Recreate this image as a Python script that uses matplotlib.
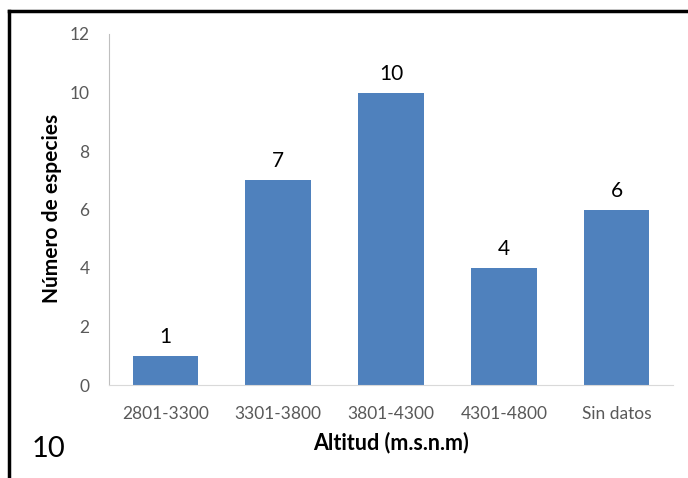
import matplotlib
matplotlib.use("Agg")
from matplotlib import pyplot as plt
from matplotlib.lines import Line2D

categorias = ["2801-3300", "3301-3800", "3801-4300", "4301-4800", "Sin datos"]
especies = [1, 7, 10, 4, 6]
ticks_y = [0, 2, 4, 6, 8, 10, 12]

plt.rcParams['font.family'] = ['Lato', 'DejaVu Sans']

fig = plt.figure(figsize=(6.88, 4.78), dpi=100)
ax = fig.add_axes([109 / 688, (478 - 385) / 478, 564 / 688, 351 / 478])

azul = '#4F81BD'
gris = '#595959'
x = range(len(categorias))
barras = ax.bar(x, especies, width=0.58, color=azul, zorder=2)
for b, v in zip(barras, especies):
    ax.text(b.get_x() + b.get_width() / 2, v + 0.3, str(v),
            ha='center', va='bottom', fontsize=15, color='black')

ax.set_xlim(-0.5, len(categorias) - 0.5)
ax.set_ylim(0, 12)
ax.set_yticks(ticks_y)
ax.set_xticks(list(x))
ax.set_xticklabels(categorias)
ax.tick_params(axis='both', length=0, labelsize=12.5, labelcolor=gris)
ax.tick_params(axis='y', pad=14)
ax.tick_params(axis='x', pad=15)

for lado in ['top', 'right']:
    ax.spines[lado].set_visible(False)
ax.spines['left'].set_color('#BFBFBF')
ax.spines['bottom'].set_color('#D9D9D9')

ax.set_ylabel('Número de especies', fontsize=15, fontweight='bold')
ax.set_xlabel('Altitud (m.s.n.m)', fontsize=15.5, fontweight='bold')
ax.yaxis.set_label_coords(-0.101, 0.503)
ax.xaxis.set_label_coords(0.5, -0.165)
ax.yaxis.label.set_va('center')
ax.xaxis.label.set_va('center')

# marco negro: arriba y a la izquierda
fig.add_artist(Line2D([9 / 688, 1], [1 - 11 / 478, 1 - 11 / 478], color='black', lw=2.5,
                      transform=fig.transFigure))
fig.add_artist(Line2D([9 / 688, 9 / 688], [0, 1 - 11 / 478], color='black', lw=2.5,
                      transform=fig.transFigure))

fig.text(32 / 688, 1 - 449 / 478, '10', fontsize=21, color='black', va='center', ha='left')

fig.savefig('out.png', dpi=100)
